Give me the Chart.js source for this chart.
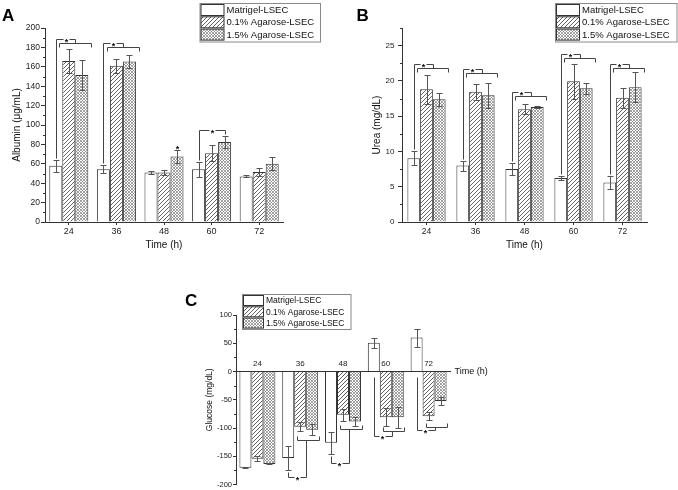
<!DOCTYPE html>
<html>
<head>
<meta charset="utf-8">
<script src="https://cdn.jsdelivr.net/npm/chart.js@4.4.1/dist/chart.umd.min.js"></script>
<style>
  body { margin: 0; background: #fff; width: 678px; height: 490px; position: relative; overflow: hidden; }
  canvas { position: absolute; }
</style>
</head>
<body>
<canvas id="albumin" width="340" height="258" style="left:0;top:0"></canvas>
<canvas id="urea" width="338" height="258" style="left:340px;top:0"></canvas>
<canvas id="glucose" width="345" height="205" style="left:150px;top:285px"></canvas>
<script>
const timeLabels = ['24', '36', '48', '60', '72'];
const seriesNames = ['Matrigel-LSEC', '0.1% Agarose-LSEC', '1.5% Agarose-LSEC'];

// A - albumin (ug/mL)
const albuminMatrigel = [58, 54.5, 51, 54.5, 47];
const albumin01 = [166, 161, 51, 71, 51.5];
const albumin15 = [151.5, 165.5, 67.5, 82.5, 60];
const albuminErrMatrigel = [6.3, 4, 1.5, 7.7, 1];
const albuminErr01 = [12, 7, 3, 8.5, 4.3];
const albuminErr15 = [15.5, 7, 6.5, 6, 6.5];
const albuminSigKind = ['pair', 'pair', 'star', 'single', null];
const albuminSigLevel = [189, 184.5, 78.5, 95, null];

// B - urea (mg/dL)
const ureaMatrigel = [9.05, 8.0, 7.5, 6.25, 5.6];
const urea01 = [18.8, 18.45, 16.0, 19.95, 17.6];
const urea15 = [17.4, 17.95, 16.3, 18.95, 19.1];
const ureaErrMatrigel = [0.95, 0.7, 0.85, 0.3, 0.95];
const ureaErr01 = [2.05, 1.1, 0.75, 2.5, 1.4];
const ureaErr15 = [0.95, 1.8, 0.1, 0.75, 2.15];
const ureaSigKind = ['pair', 'pair', 'pair', 'pair', 'pair'];
const ureaSigLevel = [22.35, 21.65, 18.4, 23.75, 22.45];

// C - glucose (mg/dL)
const glucoseMatrigel = [-170.5, -153, -126, 51, 60];
const glucose01 = [-154.5, -98, -76.5, -81, -79];
const glucose15 = [-163.5, -103, -88.5, -81, -52];
const glucoseErrMatrigel = [1, 20.5, 19.5, 9, 16];
const glucoseErr01 = [4.5, 8, 11, 16, 7.5];
const glucoseErr15 = [1, 10, 7.5, 19, 6.5];
const glucoseSigLow = [null, -187, -162.5, -113.5, -104];
const glucoseSigHigh = [null, -121.5, -101.5, -106, -98];

const FONT = '"Liberation Sans", Arial, sans-serif';
const INK = '#222';
const LINE = '#333';

function hatch(size, color, lw, cross) {
  const c = document.createElement('canvas');
  c.width = c.height = size;
  const g = c.getContext('2d');
  g.fillStyle = '#fff';
  g.fillRect(0, 0, size, size);
  g.strokeStyle = color;
  g.lineWidth = lw;
  g.beginPath();
  g.moveTo(-1, size + 1); g.lineTo(size + 1, -1);
  g.moveTo(-1, 1); g.lineTo(1, -1);
  g.moveTo(size - 1, size + 1); g.lineTo(size + 1, size - 1);
  if (cross) {
    g.moveTo(-1, -1); g.lineTo(size + 1, size + 1);
    g.moveTo(size - 1, -1); g.lineTo(size + 1, 1);
    g.moveTo(-1, size - 1); g.lineTo(1, size + 1);
  }
  g.stroke();
  return g.createPattern(c, 'repeat');
}
const fills = ['#ffffff', hatch(4, '#3a3a3a', 0.8, false), hatch(3, '#7a7a7a', 0.7, true)];

const px = v => Math.round(v) + 0.5;

function seg(ctx, x1, y1, x2, y2) {
  ctx.beginPath();
  ctx.moveTo(px(x1), px(y1));
  ctx.lineTo(px(x2), px(y2));
  ctx.stroke();
}
function gapLine(ctx, x1, x2, y, xs) {
  seg(ctx, x1, y, xs - 3, y);
  seg(ctx, xs + 3, y, x2, y);
  star(ctx, xs, y);
}
function star(ctx, x, y) {
  ctx.save();
  ctx.fillStyle = '#111';
  ctx.font = 'bold 9px ' + FONT;
  ctx.textAlign = 'center';
  ctx.textBaseline = 'alphabetic';
  ctx.fillText('*', px(x), Math.round(y) + 6);
  ctx.restore();
}

function drawErrors(chart, errs) {
  const ctx = chart.ctx, ys = chart.scales.y;
  ctx.save();
  ctx.strokeStyle = '#555';
  ctx.lineWidth = 1;
  errs.forEach((err, i) => {
    chart.getDatasetMeta(i).data.forEach((bar, j) => {
      const v = chart.data.datasets[i].data[j];
      const y1 = ys.getPixelForValue(v + err[j]);
      const y2 = ys.getPixelForValue(v - err[j]);
      seg(ctx, bar.x, y1, bar.x, y2);
      seg(ctx, bar.x - 3, y1, bar.x + 3, y1);
      seg(ctx, bar.x - 3, y2, bar.x + 3, y2);
    });
  });
  ctx.restore();
}

function drawMinor(chart, major, minor) {
  const ctx = chart.ctx, ys = chart.scales.y;
  const x = ys.right;
  ctx.save();
  ctx.strokeStyle = LINE;
  ctx.lineWidth = 1;
  for (let v = ys.min; v <= ys.max + 1e-9; v += minor) {
    if (Math.abs(v / major - Math.round(v / major)) < 1e-6) continue;
    const y = ys.getPixelForValue(v);
    ctx.beginPath();
    ctx.moveTo(x - 2, px(y));
    ctx.lineTo(x, px(y));
    ctx.stroke();
  }
  ctx.restore();
}

// brackets above the groups (A and B)
function drawTopBrackets(chart, kinds, levels, errMat) {
  const ctx = chart.ctx, ys = chart.scales.y;
  const m1 = chart.getDatasetMeta(1).data, m2 = chart.getDatasetMeta(2).data;
  const d = chart.data.datasets;
  ctx.save();
  ctx.strokeStyle = '#444';
  ctx.lineWidth = 1;
  kinds.forEach((kind, j) => {
    if (!kind) return;
    const c = m1[j].x, w = m1[j].width;
    const yT = ys.getPixelForValue(levels[j]);
    if (kind === 'star') { star(ctx, m2[j].x, yT); return; }
    const yMat = ys.getPixelForValue(d[0].data[j] + errMat[j]) - 2;
    seg(ctx, c - w, yT, c - w, yMat);
    if (kind === 'single') {
      gapLine(ctx, c - w, c + w, yT, c);
      seg(ctx, c + w, yT, c + w, ys.getPixelForValue(d[2].data[j]) - 8);
      return;
    }
    gapLine(ctx, c - w, c + 0.5 * w, yT, c - 0.25 * w);
    seg(ctx, c + 0.5 * w, yT, c + 0.5 * w, yT + 4);
    const y2 = yT + 4;
    seg(ctx, c - 0.75 * w, y2, c + 1.72 * w, y2);
    seg(ctx, c - 0.75 * w, y2, c - 0.75 * w, y2 + 4);
    seg(ctx, c + 1.72 * w, y2, c + 1.72 * w, y2 + 4);
  });
  ctx.restore();
}

// brackets below the groups (C)
function drawBottomBrackets(chart, lows, highs, errMat) {
  const ctx = chart.ctx, ys = chart.scales.y;
  const m1 = chart.getDatasetMeta(1).data;
  const d = chart.data.datasets;
  ctx.save();
  ctx.strokeStyle = '#444';
  ctx.lineWidth = 1;
  lows.forEach((low, j) => {
    if (low == null) return;
    const c = m1[j].x, w = m1[j].width;
    const yL = ys.getPixelForValue(low), yH = ys.getPixelForValue(highs[j]);
    const mv = d[0].data[j];
    const yMat = mv < 0 ? ys.getPixelForValue(mv - errMat[j]) + 2 : ys.getPixelForValue(0) + 5;
    seg(ctx, c - w, yL, c - w, yMat);
    gapLine(ctx, c - w, c + 0.5 * w, yL, c - 0.3 * w);
    seg(ctx, c + 0.5 * w, yL, c + 0.5 * w, yH);
    seg(ctx, c - 0.25 * w, yH, c + 1.55 * w, yH);
    seg(ctx, c - 0.25 * w, yH, c - 0.25 * w, yH - 4);
    seg(ctx, c + 1.55 * w, yH, c + 1.55 * w, yH - 4);
  });
  ctx.restore();
}

function drawLegend(chart, L) {
  const ctx = chart.ctx;
  ctx.save();
  ctx.fillStyle = '#fff';
  ctx.fillRect(L.x, L.y, L.w, L.h);
  ctx.strokeStyle = '#8a8a8a';
  ctx.lineWidth = 1;
  ctx.strokeRect(L.x + 0.5, L.y + 0.5, L.w, L.h);
  chart.data.datasets.forEach((ds, i) => {
    const top = L.y + 1.5 + i * L.pitch;
    ctx.fillStyle = ds.backgroundColor;
    ctx.fillRect(L.x + 1.5, top, L.sw, L.sh);
    ctx.strokeStyle = LINE;
    ctx.strokeRect(L.x + 1.5, top, L.sw, L.sh);
    ctx.fillStyle = '#111';
    ctx.font = L.font + 'px ' + FONT;
    ctx.textAlign = 'left';
    ctx.textBaseline = 'middle';
    ctx.fillText(ds.label, L.x + L.sw + 4, top + L.sh / 2 + 0.5);
  });
  ctx.restore();
}

function letter(chart, t, x, y) {
  const ctx = chart.ctx;
  ctx.save();
  ctx.fillStyle = '#000';
  ctx.font = 'bold 17px ' + FONT;
  ctx.textAlign = 'left';
  ctx.textBaseline = 'alphabetic';
  ctx.fillText(t, x, y);
  ctx.restore();
}

function sets(vals, cp) {
  return vals.map((v, i) => ({
    label: seriesNames[i],
    data: v,
    backgroundColor: fills[i],
    borderColor: LINE,
    borderWidth: 1,
    barPercentage: 1,
    categoryPercentage: cp
  }));
}

const tickFont = size => ({ family: FONT, size: size });

// ---------- A ----------
new Chart(document.getElementById('albumin'), {
  type: 'bar',
  data: { labels: timeLabels, datasets: sets([albuminMatrigel, albumin01, albumin15], 0.82) },
  options: {
    responsive: false,
    animation: false,
    layout: { padding: { top: 28, right: 57, left: 0, bottom: 0 } },
    plugins: { legend: { display: false }, tooltip: { enabled: false } },
    scales: {
      x: {
        ticks: { font: tickFont(9), color: INK, padding: 1 },
        grid: { offset: false, drawOnChartArea: false, tickLength: 3, color: LINE },
        border: { color: LINE },
        title: { display: true, text: 'Time (h)', font: tickFont(10), color: '#111', padding: { bottom: 7 } },
        afterFit: s => { s.height = 36; }
      },
      y: {
        min: 0, max: 200,
        ticks: { stepSize: 20, font: tickFont(8.5), color: INK, padding: 1 },
        grid: { drawOnChartArea: false, tickLength: 4, color: LINE },
        border: { color: LINE },
        title: { display: true, text: 'Albumin (μg/mL)', font: tickFont(10), color: '#111', padding: { top: 11.5 } },
        afterFit: s => { s.width = 45; }
      }
    }
  },
  plugins: [{
    id: 'albuminOverlay',
    afterDatasetsDraw(chart) {
      drawErrors(chart, [albuminErrMatrigel, albuminErr01, albuminErr15]);
      drawTopBrackets(chart, albuminSigKind, albuminSigLevel, albuminErrMatrigel);
      drawMinor(chart, 20, 10);
    },
    afterDraw(chart) {
      drawLegend(chart, { x: 199.5, y: 3, w: 120.5, h: 38.5, sw: 23, sh: 11, pitch: 12.3, font: 9.5 });
      letter(chart, 'A', 2, 21);
    }
  }]
});

// ---------- B ----------
new Chart(document.getElementById('urea'), {
  type: 'bar',
  data: { labels: timeLabels, datasets: sets([ureaMatrigel, urea01, urea15], 0.78) },
  options: {
    responsive: false,
    animation: false,
    layout: { padding: { top: 28, right: 31, left: 0, bottom: 0 } },
    plugins: { legend: { display: false }, tooltip: { enabled: false } },
    scales: {
      x: {
        ticks: { font: tickFont(8.5), color: INK, padding: 1.5 },
        grid: { offset: false, drawOnChartArea: false, tickLength: 3, color: LINE },
        border: { color: LINE },
        title: { display: true, text: 'Time (h)', font: tickFont(10), color: '#111', padding: { bottom: 7 } },
        afterFit: s => { s.height = 36; }
      },
      y: {
        min: 0, max: 27.5,
        ticks: { stepSize: 5, includeBounds: false, font: tickFont(8), color: INK, padding: 3.5 },
        grid: { drawOnChartArea: false, tickLength: 4, color: LINE },
        border: { color: LINE },
        title: { display: true, text: 'Urea (mg/dL)', font: tickFont(10), color: '#111', padding: { top: 31.5 } },
        afterFit: s => { s.width = 62; }
      }
    }
  },
  plugins: [{
    id: 'ureaOverlay',
    afterDatasetsDraw(chart) {
      drawErrors(chart, [ureaErrMatrigel, ureaErr01, ureaErr15]);
      drawTopBrackets(chart, ureaSigKind, ureaSigLevel, ureaErrMatrigel);
      drawMinor(chart, 5, 2.5);
    },
    afterDraw(chart) {
      drawLegend(chart, { x: 215, y: 3, w: 121.5, h: 38.5, sw: 23, sh: 11, pitch: 12.3, font: 9.5 });
      letter(chart, 'B', 16.5, 21);
    }
  }]
});

// ---------- C ----------
new Chart(document.getElementById('glucose'), {
  type: 'bar',
  data: { labels: timeLabels, datasets: sets([glucoseMatrigel, glucose01, glucose15], 0.84) },
  options: {
    responsive: false,
    animation: false,
    layout: { padding: { top: 30, right: 45, left: 50, bottom: 4.3 } },
    plugins: { legend: { display: false }, tooltip: { enabled: false } },
    scales: {
      x: {
        position: { y: 0 },
        ticks: { font: tickFont(8), color: INK, padding: -15.5 },
        grid: { offset: false, drawOnChartArea: false, tickLength: 3, color: LINE },
        border: { color: LINE },
        afterFit: s => { s.height = 0; }
      },
      y: {
        min: -200, max: 100,
        ticks: { stepSize: 50, font: tickFont(7.5), color: INK, padding: 1 },
        grid: { drawOnChartArea: false, tickLength: 3, color: LINE },
        border: { color: LINE },
        title: { display: true, text: 'Glucose (mg/dL)', font: tickFont(8.5), color: '#111', padding: { top: 4.9 } },
        afterFit: s => { s.width = 36; }
      }
    }
  },
  plugins: [{
    id: 'glucoseOverlay',
    afterDatasetsDraw(chart) {
      drawErrors(chart, [glucoseErrMatrigel, glucoseErr01, glucoseErr15]);
      drawBottomBrackets(chart, glucoseSigLow, glucoseSigHigh, glucoseErrMatrigel);
      drawMinor(chart, 50, 25);
    },
    afterDraw(chart) {
      const ctx = chart.ctx;
      ctx.save();
      ctx.fillStyle = '#111';
      ctx.font = '9px ' + FONT;
      ctx.textAlign = 'left';
      ctx.textBaseline = 'middle';
      ctx.fillText('Time (h)', chart.chartArea.right + 4.5, chart.scales.y.getPixelForValue(0));
      ctx.restore();
      drawLegend(chart, { x: 92, y: 9, w: 108.5, h: 35, sw: 20, sh: 10, pitch: 11.3, font: 8.5 });
      letter(chart, 'C', 35, 21);
    }
  }]
});
</script>
</body>
</html>
